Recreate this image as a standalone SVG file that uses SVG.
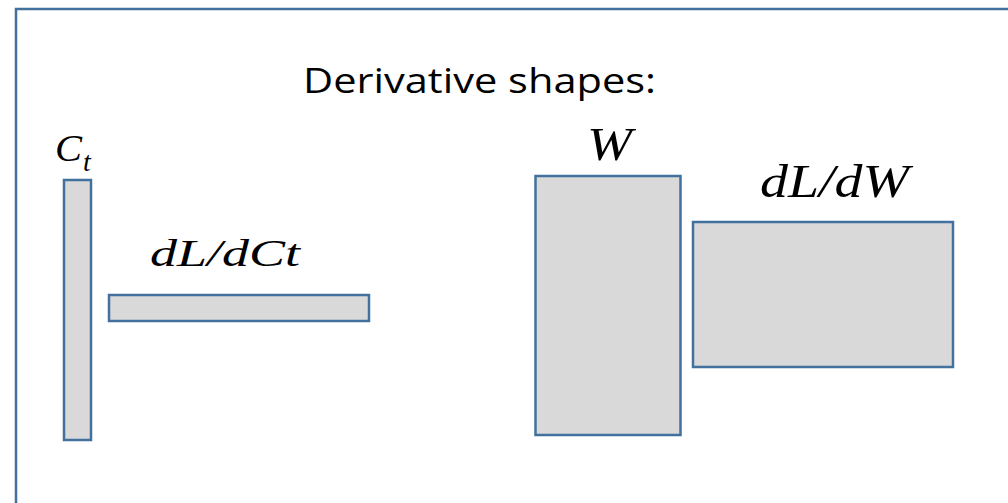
<svg xmlns="http://www.w3.org/2000/svg" width="1008" height="503" viewBox="0 0 1008 503">
<style>
.frame{fill:#FFFFFF;stroke:#41719C;stroke-width:2.5}
.box{fill:#D9D9D9;stroke:#41719C;stroke-width:2.5}
.title{font-family:"Open Sans","Liberation Sans",sans-serif;font-size:34px;fill:#000}
.math{font-family:"Liberation Serif","DejaVu Serif",serif;font-style:italic;font-size:38px;fill:#000}
.big{font-size:47px}
.sub{font-family:"Liberation Serif","DejaVu Serif",serif;font-style:italic;font-size:28px;fill:#000}
</style>
<rect width="1008" height="503" fill="#FFFFFF"/>
<rect class="frame" x="16" y="9" width="1010" height="510"/>
<text class="title" x="303" y="93" textLength="353" lengthAdjust="spacingAndGlyphs">Derivative shapes:</text>
<g id="Ct">
<rect class="box" x="64" y="180" width="27" height="260"/>
<text class="math" x="55" y="161" textLength="27" lengthAdjust="spacingAndGlyphs">C</text>
<text class="sub" x="83" y="171">t</text>
</g>
<g id="dLdCt">
<rect class="box" x="109" y="295" width="260" height="26"/>
<text class="math" x="150" y="266" textLength="150" lengthAdjust="spacingAndGlyphs">dL/dCt</text>
</g>
<g id="W">
<rect class="box" x="535.5" y="176" width="145" height="259"/>
<text class="math big" x="587" y="160" textLength="45" lengthAdjust="spacingAndGlyphs">W</text>
</g>
<g id="dLdW">
<rect class="box" x="693" y="222" width="260" height="145"/>
<text class="math big" x="760" y="197" textLength="149" lengthAdjust="spacingAndGlyphs">dL/dW</text>
</g>
<g id="connectors"/>
</svg>
